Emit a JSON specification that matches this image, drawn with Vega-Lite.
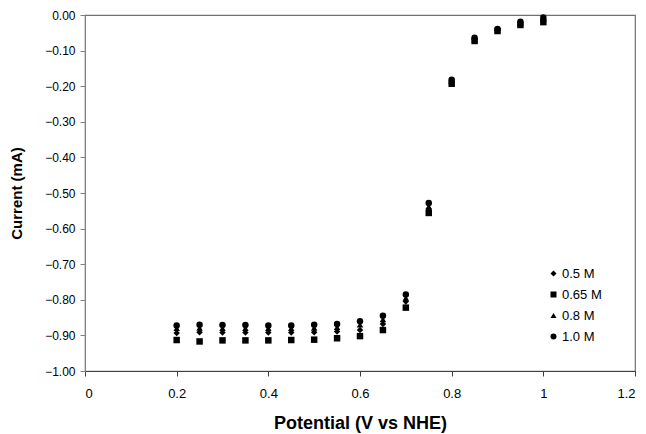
{
  "$schema": "https://vega.github.io/schema/vega-lite/v6.json",
  "autosize": "none",
  "width": 550,
  "height": 356,
  "padding": {"left": 85, "top": 15, "right": 11, "bottom": 63},
  "background": "white",
  "config": {
    "font": "Liberation Sans",
    "view": {"stroke": "#707070", "strokeWidth": 1.2}
  },
  "datasets": {
    "d": [
      {"conc": "0.5 M", "potential": 0.2, "current": -0.893},
      {"conc": "0.5 M", "potential": 0.25, "current": -0.891},
      {"conc": "0.5 M", "potential": 0.3, "current": -0.892},
      {"conc": "0.5 M", "potential": 0.35, "current": -0.892},
      {"conc": "0.5 M", "potential": 0.4, "current": -0.892},
      {"conc": "0.5 M", "potential": 0.45, "current": -0.892},
      {"conc": "0.5 M", "potential": 0.5, "current": -0.891},
      {"conc": "0.5 M", "potential": 0.55, "current": -0.889},
      {"conc": "0.5 M", "potential": 0.6, "current": -0.885},
      {"conc": "0.5 M", "potential": 0.65, "current": -0.868},
      {"conc": "0.5 M", "potential": 0.7, "current": -0.805},
      {"conc": "0.5 M", "potential": 0.75, "current": -0.545},
      {"conc": "0.5 M", "potential": 0.8, "current": -0.189},
      {"conc": "0.5 M", "potential": 0.85, "current": -0.069},
      {"conc": "0.5 M", "potential": 0.9, "current": -0.043},
      {"conc": "0.5 M", "potential": 0.95, "current": -0.025},
      {"conc": "0.5 M", "potential": 1.0, "current": -0.015},
      {"conc": "0.65 M", "potential": 0.2, "current": -0.913},
      {"conc": "0.65 M", "potential": 0.25, "current": -0.917},
      {"conc": "0.65 M", "potential": 0.3, "current": -0.914},
      {"conc": "0.65 M", "potential": 0.35, "current": -0.914},
      {"conc": "0.65 M", "potential": 0.4, "current": -0.914},
      {"conc": "0.65 M", "potential": 0.45, "current": -0.913},
      {"conc": "0.65 M", "potential": 0.5, "current": -0.912},
      {"conc": "0.65 M", "potential": 0.55, "current": -0.908},
      {"conc": "0.65 M", "potential": 0.6, "current": -0.902},
      {"conc": "0.65 M", "potential": 0.65, "current": -0.885},
      {"conc": "0.65 M", "potential": 0.7, "current": -0.822},
      {"conc": "0.65 M", "potential": 0.75, "current": -0.556},
      {"conc": "0.65 M", "potential": 0.8, "current": -0.193},
      {"conc": "0.65 M", "potential": 0.85, "current": -0.073},
      {"conc": "0.65 M", "potential": 0.9, "current": -0.045},
      {"conc": "0.65 M", "potential": 0.95, "current": -0.028},
      {"conc": "0.65 M", "potential": 1.0, "current": -0.020},
      {"conc": "0.8 M", "potential": 0.2, "current": -0.880},
      {"conc": "0.8 M", "potential": 0.25, "current": -0.879},
      {"conc": "0.8 M", "potential": 0.3, "current": -0.880},
      {"conc": "0.8 M", "potential": 0.35, "current": -0.880},
      {"conc": "0.8 M", "potential": 0.4, "current": -0.880},
      {"conc": "0.8 M", "potential": 0.45, "current": -0.880},
      {"conc": "0.8 M", "potential": 0.5, "current": -0.879},
      {"conc": "0.8 M", "potential": 0.55, "current": -0.877},
      {"conc": "0.8 M", "potential": 0.6, "current": -0.870},
      {"conc": "0.8 M", "potential": 0.65, "current": -0.855},
      {"conc": "0.8 M", "potential": 0.7, "current": -0.795},
      {"conc": "0.8 M", "potential": 0.75, "current": -0.538},
      {"conc": "0.8 M", "potential": 0.8, "current": -0.186},
      {"conc": "0.8 M", "potential": 0.85, "current": -0.067},
      {"conc": "0.8 M", "potential": 0.9, "current": -0.041},
      {"conc": "0.8 M", "potential": 0.95, "current": -0.022},
      {"conc": "0.8 M", "potential": 1.0, "current": -0.011},
      {"conc": "1.0 M", "potential": 0.2, "current": -0.872},
      {"conc": "1.0 M", "potential": 0.25, "current": -0.870},
      {"conc": "1.0 M", "potential": 0.3, "current": -0.871},
      {"conc": "1.0 M", "potential": 0.35, "current": -0.871},
      {"conc": "1.0 M", "potential": 0.4, "current": -0.872},
      {"conc": "1.0 M", "potential": 0.45, "current": -0.872},
      {"conc": "1.0 M", "potential": 0.5, "current": -0.870},
      {"conc": "1.0 M", "potential": 0.55, "current": -0.868},
      {"conc": "1.0 M", "potential": 0.6, "current": -0.860},
      {"conc": "1.0 M", "potential": 0.65, "current": -0.845},
      {"conc": "1.0 M", "potential": 0.7, "current": -0.785},
      {"conc": "1.0 M", "potential": 0.75, "current": -0.528},
      {"conc": "1.0 M", "potential": 0.8, "current": -0.182},
      {"conc": "1.0 M", "potential": 0.85, "current": -0.064},
      {"conc": "1.0 M", "potential": 0.9, "current": -0.039},
      {"conc": "1.0 M", "potential": 0.95, "current": -0.019},
      {"conc": "1.0 M", "potential": 1.0, "current": -0.007}
    ]
  },
  "data": {"name": "d"},
  "mark": {"type": "point", "filled": true, "opacity": 1, "color": "black", "size": 42},
  "encoding": {
    "x": {
      "field": "potential",
      "type": "quantitative",
      "scale": {"domain": [0, 1.2], "nice": false, "zero": false},
      "axis": {
        "title": "Potential (V vs NHE)",
        "titleFont": "Liberation Sans",
        "titleFontSize": 18,
        "titleFontWeight": "bold",
        "titleColor": "black",
        "titlePadding": 14,
        "values": [0, 0.2, 0.4, 0.6, 0.8, 1.0, 1.2],
        "format": ".1~f",
        "labelFontSize": 13,
        "labelColor": "black",
        "labelPadding": 11,
        "domainColor": "#404040",
        "tickColor": "#404040",
        "tickSize": 5,
        "grid": false
      }
    },
    "y": {
      "field": "current",
      "type": "quantitative",
      "scale": {"domain": [-1, 0], "nice": false, "zero": false},
      "axis": {
        "title": "Current (mA)",
        "titleFont": "Liberation Sans",
        "titleFontSize": 15,
        "titleFontWeight": "bold",
        "titleColor": "black",
        "titlePadding": 20,
        "values": [0, -0.1, -0.2, -0.3, -0.4, -0.5, -0.6, -0.7, -0.8, -0.9, -1.0],
        "format": ".2f",
        "labelFontSize": 12,
        "labelColor": "black",
        "labelPadding": 5,
        "labelOverlap": false,
        "domainColor": "#808080",
        "tickColor": "#808080",
        "tickSize": 5,
        "grid": false
      }
    },
    "shape": {
      "field": "conc",
      "type": "nominal",
      "scale": {
        "domain": ["0.5 M", "0.65 M", "0.8 M", "1.0 M"],
        "range": ["diamond", "square", "triangle-up", "circle"]
      },
      "legend": {
        "title": null,
        "orient": "none",
        "legendX": 462,
        "legendY": 252,
        "symbolFillColor": "black",
        "symbolStrokeColor": "black",
        "symbolSize": 36,
        "labelFontSize": 13,
        "labelColor": "black",
        "labelOffset": 2,
        "rowPadding": 7
      }
    }
  }
}
